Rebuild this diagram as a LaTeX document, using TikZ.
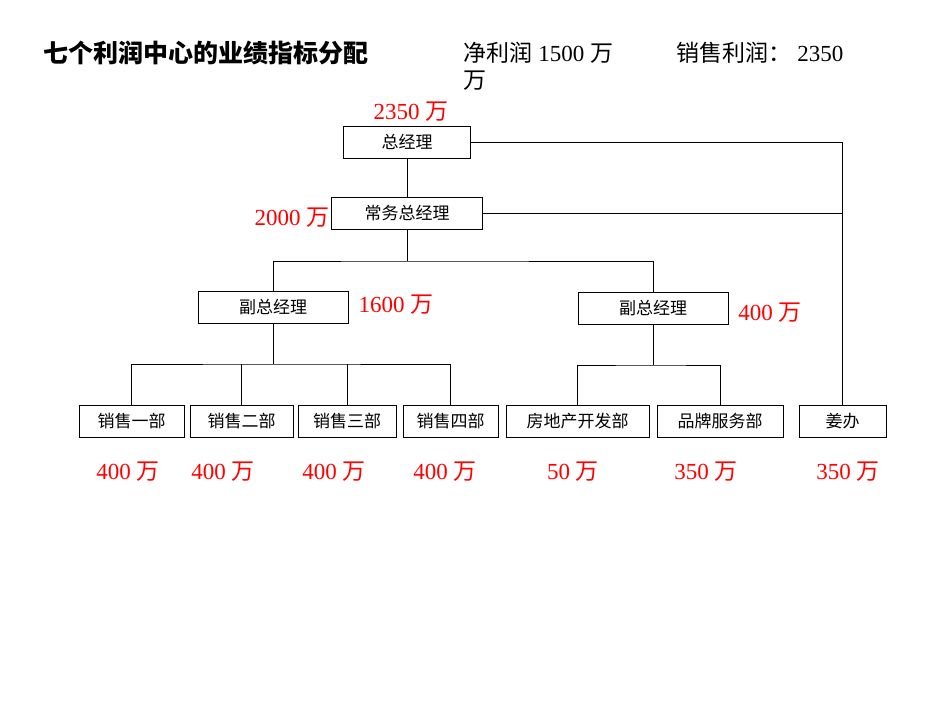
\documentclass[tikz,border=0pt]{standalone}
\usepackage{fontspec}
\setmainfont{Liberation Serif}
\newfontfamily\cjk{Noto Sans CJK SC}
\begin{document}
\begin{tikzpicture}[x=1pt,y=-1pt,
  box/.style={draw,thin,minimum height=32pt,inner sep=0pt,font=\cjk\fontsize{17}{20}\selectfont},
  red/.style={text=red,font=\fontsize{23}{26}\selectfont},
  ln/.style={draw,thin}]
\useasboundingbox (0,0) rectangle (950,713);
\node[anchor=west,font=\cjk\bfseries\fontsize{25}{28}\selectfont] (title) at (40,53) {七个利润中心的业绩指标分配};
\node[anchor=west,font=\fontsize{23}{26}\selectfont] (np) at (460,53) {{\cjk 净利润} 1500 {\cjk 万}};
\node[anchor=west,font=\cjk\fontsize{23}{26}\selectfont] (np2) at (460,81) {万};
\node[anchor=west,font=\fontsize{23}{26}\selectfont] (sp) at (673,53) {{\cjk 销售利润：} 2350};
\node[box,minimum width=127pt] (gm) at (407,142) {总经理};
\node[box,minimum width=151pt] (cw) at (407,213) {常务总经理};
\node[box,minimum width=150pt] (vl) at (273,307) {副总经理};
\node[box,minimum width=150pt] (vr) at (653,308) {副总经理};
\node[box,minimum width=105pt] (s1) at (131.5,421) {销售一部};
\node[box,minimum width=103pt] (s2) at (241.5,421) {销售二部};
\node[box,minimum width=98pt] (s3) at (347,421) {销售三部};
\node[box,minimum width=95pt] (s4) at (450.5,421) {销售四部};
\node[box,minimum width=143pt] (fd) at (577.5,421) {房地产开发部};
\node[box,minimum width=126pt] (pp) at (720,421) {品牌服务部};
\node[box,minimum width=87pt] (jb) at (842.5,421) {姜办};
\draw[ln] (gm.east) -| (jb.north);
\draw[ln] (cw.east) -- (cw.east -| jb.north);
\draw[ln] (gm.south) -- (cw.north);
\coordinate (c1) at (407,261);
\draw[ln] (cw.south) -- (c1);
\draw[ln] (vl.north) |- (c1) -| (vr.north);
\coordinate (c2) at (273,364);
\draw[ln] (vl.south) -- (c2);
\draw[ln] (s1.north) |- (c2) -| (s4.north);
\draw[ln] (s2.north) -- (s2.north |- c2);
\draw[ln] (s3.north) -- (s3.north |- c2);
\coordinate (c3) at (653,365);
\draw[ln] (vr.south) -- (c3);
\draw[ln] (fd.north) |- (c3) -| (pp.north);
\node[red] (r0) at (411,112) {2350 {\cjk 万}};
\node[red] (r1) at (292,218) {2000 {\cjk 万}};
\node[red] (r2) at (396,305) {1600 {\cjk 万}};
\node[red] (r3) at (770,313) {400 {\cjk 万}};
\foreach \x/\t/\n in {128/400/b1,223/400/b2,334/400/b3,445/400/b4,573/50/b5,706/350/b6,848/350/b7}
  \node[red] (\n) at (\x,472) {\t{} {\cjk 万}};
\end{tikzpicture}
\end{document}
